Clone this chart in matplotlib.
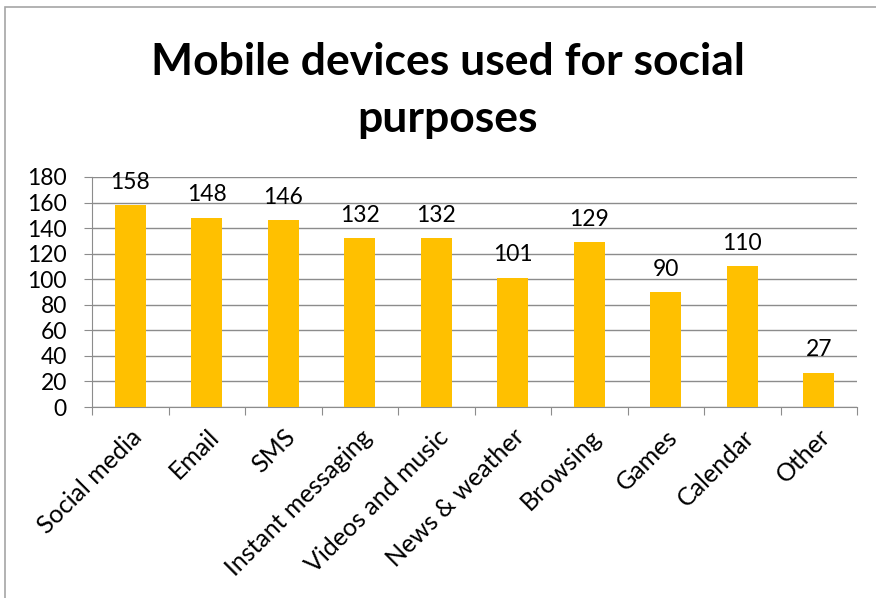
import matplotlib
matplotlib.use("Agg")
import matplotlib.pyplot as plt
from matplotlib.patches import Rectangle

categories = ["Social media", "Email", "SMS", "Instant messaging", "Videos and music",
              "News & weather", "Browsing", "Games", "Calendar", "Other"]
counts = [158, 148, 146, 132, 132, 101, 129, 90, 110, 27]
y_ticks = [0, 20, 40, 60, 80, 100, 120, 140, 160, 180]

plt.rcParams["font.family"] = ["Lato", "DejaVu Sans"]

fig = plt.figure(figsize=(8.76, 5.98), dpi=100)
ax = fig.add_axes([92 / 876, 1 - 407 / 598, 765 / 876, 230 / 598])

# outer chart border (only top/left visible in the crop)
fig.patches.append(Rectangle((5 / 876, -0.1), 1.2, 1 - 7 / 598 + 0.1,
                             transform=fig.transFigure, fill=False,
                             edgecolor="#a6a6a6", linewidth=1.2))

x = list(range(len(categories)))
ax.bar(x, counts, width=0.4, color="#FFC000", zorder=3)
for xi, v in zip(x, counts):
    ax.annotate(str(v), (xi, v), xytext=(0, 9), textcoords="offset points",
                ha="center", va="bottom", fontsize=16.5)

ax.set_xlim(-0.5, len(categories) - 0.5)
ax.set_ylim(0, 180)
ax.set_yticks(y_ticks)
ax.yaxis.grid(True, color="#8c8c8c", linewidth=1, zorder=0)
ax.set_xticks([i - 0.5 for i in range(len(categories) + 1)])
ax.set_xticklabels([])
ax.set_xticks(x, minor=True)
ax.set_xticklabels(categories, minor=True, rotation=45, ha="right",
                   rotation_mode="anchor", fontsize=18)
ax.tick_params(axis="x", which="minor", length=0, pad=13)
ax.tick_params(axis="x", which="major", length=6, color="#8c8c8c")
ax.tick_params(axis="y", length=6, color="#8c8c8c", labelsize=16.5, pad=12)
for side in ["top", "right"]:
    ax.spines[side].set_visible(False)
for side in ["left", "bottom"]:
    ax.spines[side].set_color("#8c8c8c")

fig.text(0.511, 0.849, "Mobile devices used for social\npurposes", ha="center",
         va="center", fontsize=32, fontweight="bold", linespacing=1.5)

fig.savefig("out.png", dpi=100)
